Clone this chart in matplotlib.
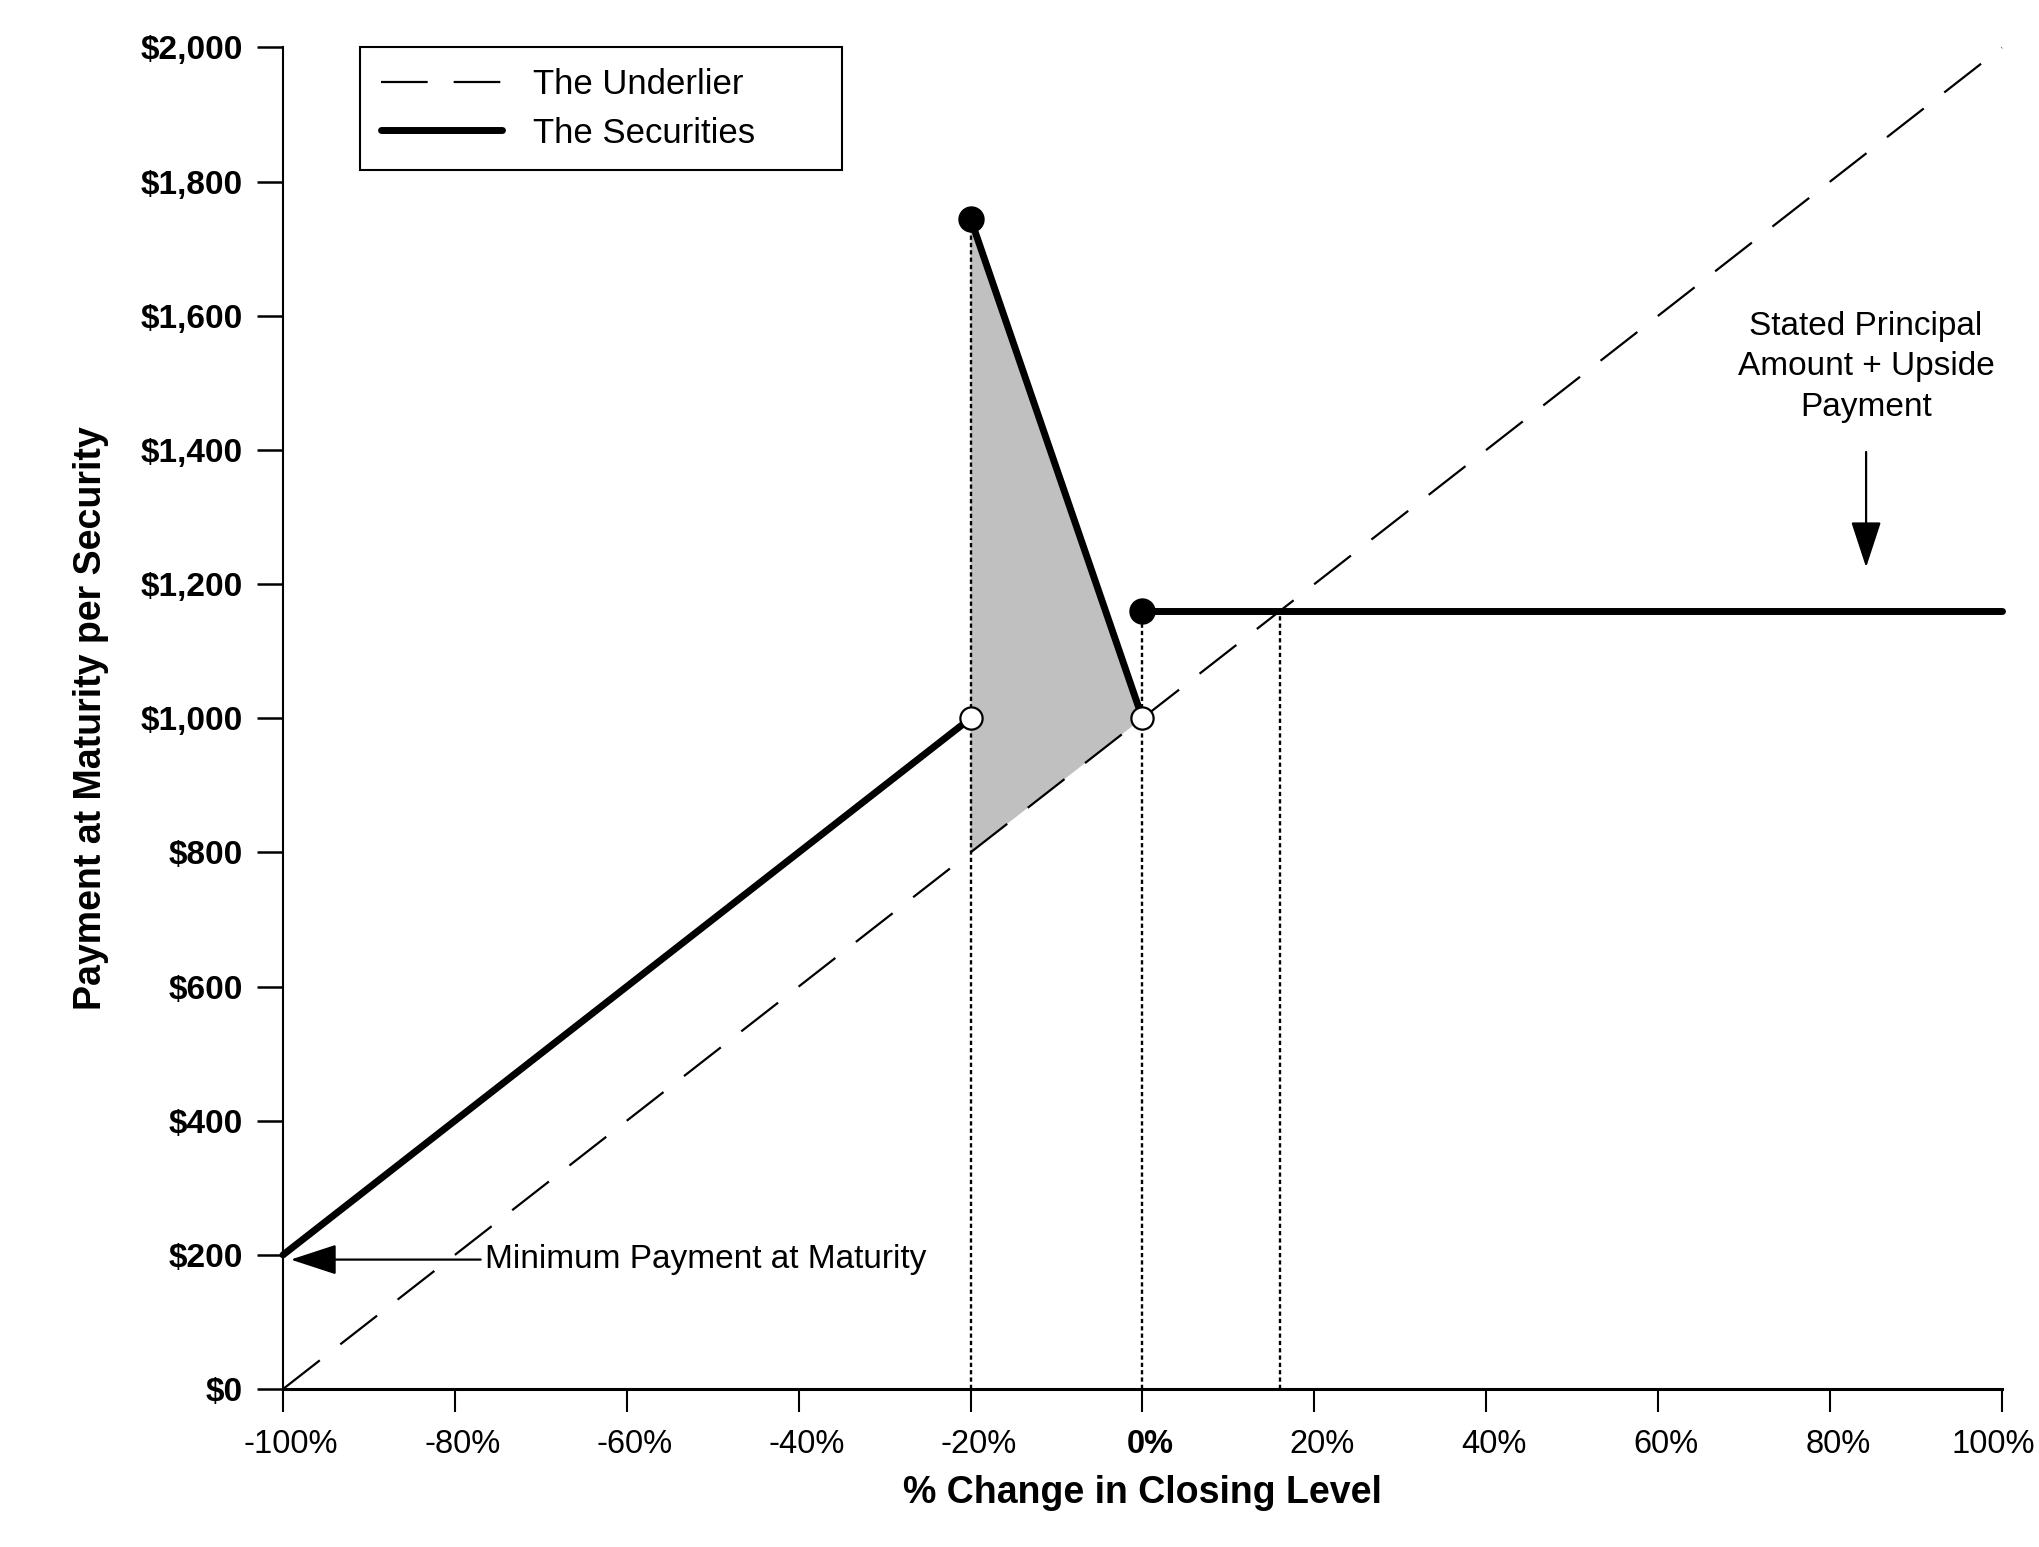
import matplotlib
matplotlib.use('Agg')
import matplotlib.pyplot as plt
from matplotlib.lines import Line2D
from matplotlib.transforms import ScaledTranslation

plt.rcParams['font.family'] = ['Liberation Sans', 'DejaVu Sans']

# ---------------- data ----------------
x_ticks = [-100, -80, -60, -40, -20, 0, 20, 40, 60, 80, 100]
x_tick_labels = ['-100%', '-80%', '-60%', '-40%', '-20%', '0%',
                 '20%', '40%', '60%', '80%', '100%']
y_ticks = [0, 200, 400, 600, 800, 1000, 1200, 1400, 1600, 1800, 2000]
y_tick_labels = ['\\$0', '\\$200', '\\$400', '\\$600', '\\$800', '\\$1,000',
                 '\\$1,200', '\\$1,400', '\\$1,600', '\\$1,800', '\\$2,000']

underlier_x = [-100, 100]
underlier_y = [0, 2000]

buffer_x = [-100, -20]
buffer_y = [200, 1000]
absolute_x = [-20, 0]
absolute_y = [1745, 1000]
capped_x = [0, 100]
capped_y = [1160, 1160]

filled_x = [-20, 0]
filled_y = [1745, 1160]
open_x = [-20, 0]
open_y = [1000, 1000]

guide_x = [-20, 0, 16]
guide_top = [1745, 1160, 1160]

shade_x = [-20, -20, 0]
shade_y = [800, 1745, 1000]

min_payment_y = 193
min_arrow_x = [-77.0, -99.1]
min_text_x = -76.5

cap_arrow_x = 84.2
cap_arrow_y = [1397, 1225]
cap_text_y = 1524

# ---------------- figure ----------------
fig = plt.figure(figsize=(20.39, 15.47), dpi=100)
ax = fig.add_axes([0.1388, 0.1021, 0.8430, 0.8672])
ax.set_xlim(-100, 100)
ax.set_ylim(0, 2000)

# shaded region
ax.fill(shade_x, shade_y, color='#C0C0C0', lw=0, zorder=1)

# dotted guides
for gx, gt in zip(guide_x, guide_top):
    ax.plot([gx, gx], [0, gt], color='black', lw=1.7, dashes=(1.8, 1.3),
            zorder=2, clip_on=False)

# underlier
h_under, = ax.plot(underlier_x, underlier_y, color='black', lw=1.6,
                   dashes=(21, 11.7), zorder=2, clip_on=False)

# securities
sec_kw = dict(color='black', lw=5, solid_capstyle='round', zorder=3, clip_on=False)
ax.plot(buffer_x, buffer_y, **sec_kw)
ax.plot(absolute_x, absolute_y, **sec_kw)
ax.plot(capped_x, capped_y, **sec_kw)

ax.plot(filled_x, filled_y, 'o', color='black', ms=18, zorder=4, clip_on=False)
ax.plot(open_x, open_y, 'o', mfc='white', mec='black', mew=1.6, ms=16,
        zorder=4, clip_on=False)

# annotations
arrow_kw = dict(arrowstyle='-|>,head_length=29,head_width=9.5', color='black',
                lw=1.6, shrinkA=0, shrinkB=0, mutation_scale=1)
ax.annotate('', xy=(min_arrow_x[1], min_payment_y),
            xytext=(min_arrow_x[0], min_payment_y), arrowprops=arrow_kw,
            annotation_clip=False)
ax.text(min_text_x, min_payment_y, 'Minimum Payment at Maturity',
        fontsize=24, ha='left', va='center')

ax.annotate('', xy=(cap_arrow_x, cap_arrow_y[1]),
            xytext=(cap_arrow_x, cap_arrow_y[0]), arrowprops=arrow_kw)
ax.text(cap_arrow_x, cap_text_y, 'Stated Principal\nAmount + Upside\nPayment',
        fontsize=24, ha='center', va='center', linespacing=1.4)

# axes styling
ax.spines['top'].set_visible(False)
ax.spines['right'].set_visible(False)
ax.spines['left'].set_linewidth(1.5)
ax.spines['bottom'].set_linewidth(2.2)

ax.set_xticks(x_ticks)
ax.set_xticklabels(x_tick_labels, fontsize=23.5)
ax.set_yticks(y_ticks)
ax.set_yticklabels(y_tick_labels, fontsize=24, fontweight='bold')

ax.tick_params(axis='x', direction='out', length=16.5, width=1.5, pad=12)
ax.tick_params(axis='y', direction='out', length=19, width=1.8, pad=10)

xlabels = ax.get_xticklabels()
xlabels[x_ticks.index(0)].set_fontweight('bold')
for i, lab in enumerate(xlabels):
    dx = -0.09 if i == len(xlabels) - 1 else 0.08
    lab.set_transform(lab.get_transform() + ScaledTranslation(dx, 0, fig.dpi_scale_trans))

ax.set_xlabel('% Change in Closing Level', fontsize=27, fontweight='bold')
ax.xaxis.set_label_coords(0.5, -0.064)
ax.set_ylabel('Payment at Maturity per Security', fontsize=27, fontweight='bold')
ax.yaxis.set_label_coords(-0.1012, 0.5)

# legend
h_sec = Line2D([], [], color='black', lw=5, solid_capstyle='round')
leg = ax.legend([h_under, h_sec], ['The Underlier', 'The Securities'],
                loc='upper left', bbox_to_anchor=(0.0448, 0.0, 0.2804, 1.0),
                mode='expand', borderaxespad=0, fontsize=25,
                handlelength=3.5, handletextpad=0.9, borderpad=0.59,
                labelspacing=0.45, fancybox=False, framealpha=1)
leg.get_frame().set_edgecolor('black')
leg.get_frame().set_linewidth(1.5)

fig.savefig('out.png', dpi=100)
